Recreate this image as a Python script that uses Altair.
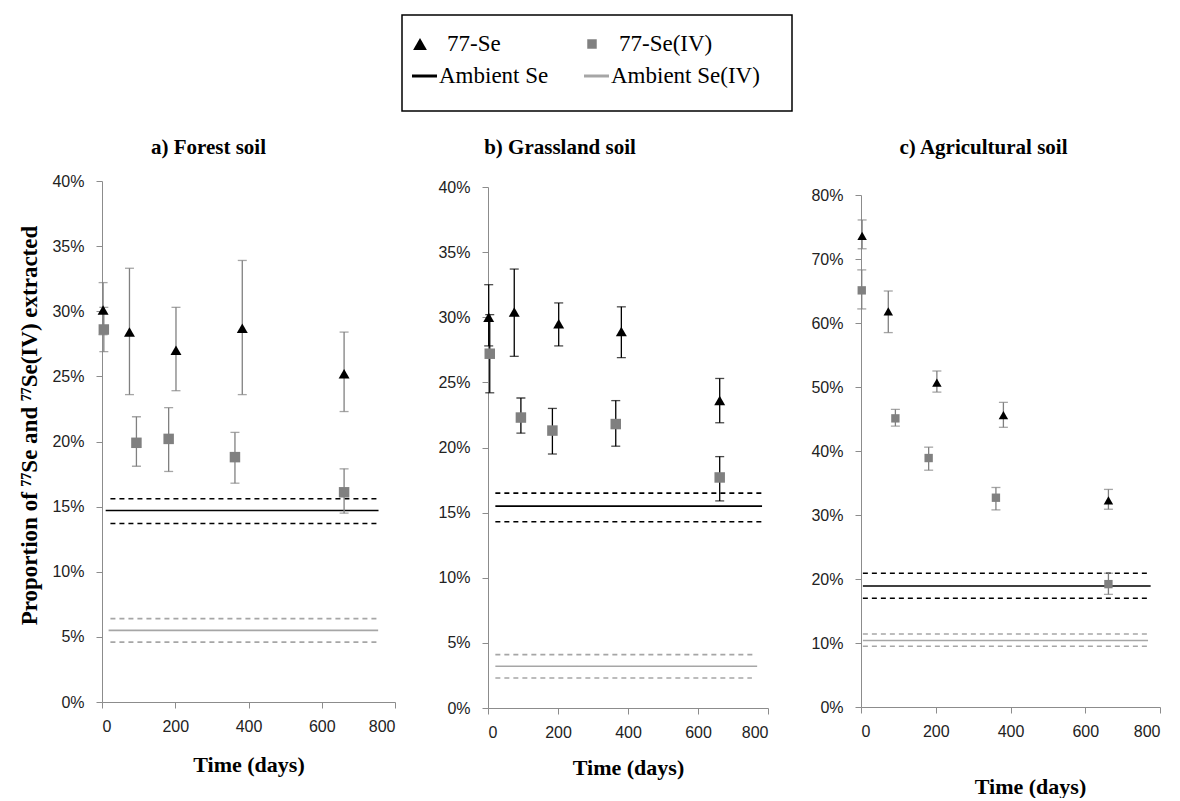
import altair as alt
import pandas as pd

# ---------------- data (values in %) ----------------
# a) Forest soil
a_se_day = [3, 75, 202, 383, 661]
a_se_val = [30.1, 28.4, 27.0, 28.7, 25.2]
a_se_lo = [28.2, 23.6, 23.9, 23.6, 22.3]
a_se_hi = [32.2, 33.3, 30.3, 33.9, 28.4]
a_iv_day = [5, 94, 182, 363, 661]
a_iv_val = [28.6, 19.9, 20.2, 18.8, 16.1]
a_iv_lo = [26.9, 18.1, 17.7, 16.8, 14.5]
a_iv_hi = [30.3, 21.9, 22.6, 20.7, 17.9]
a_amb_se = [14.7, 15.6, 13.7]        # mean, upper, lower
a_amb_iv = [5.5, 6.4, 4.6]
a_amb_se_start = [10, 23, 23]
a_amb_se_end = [755, 755, 755]
a_amb_iv_start = [18, 23, 23]
a_amb_iv_end = [754, 754, 754]

# b) Grassland soil
b_se_day = [2, 75, 202, 381, 662]
b_se_val = [30.0, 30.4, 29.5, 28.9, 23.6]
b_se_lo = [27.8, 27.0, 27.8, 26.9, 21.9]
b_se_hi = [32.5, 33.7, 31.1, 30.8, 25.3]
b_iv_day = [5, 94, 184, 365, 662]
b_iv_val = [27.2, 22.3, 21.3, 21.8, 17.7]
b_iv_lo = [24.2, 21.1, 19.5, 20.1, 15.9]
b_iv_hi = [30.2, 23.8, 23.0, 23.6, 19.3]
b_amb_se = [15.5, 16.5, 14.3]
b_amb_iv = [3.2, 4.1, 2.3]
b_amb_se_start = [21, 21, 21]
b_amb_se_end = [783, 792, 783]
b_amb_iv_start = [21, 21, 21]
b_amb_iv_end = [769, 765, 754]

# c) Agricultural soil
c_se_day = [3, 73, 203, 381, 662]
c_se_val = [73.6, 61.8, 50.7, 45.6, 32.3]
c_se_lo = [71.6, 58.5, 49.2, 43.7, 30.9]
c_se_hi = [76.1, 65.0, 52.5, 47.6, 34.0]
c_iv_day = [2, 92, 181, 361, 662]
c_iv_val = [65.1, 45.1, 38.9, 32.7, 19.2]
c_iv_lo = [62.2, 43.9, 37.0, 30.8, 17.6]
c_iv_hi = [68.3, 46.5, 40.6, 34.3, 20.9]
c_amb_se = [18.9, 20.9, 17.0]
c_amb_iv = [10.4, 11.4, 9.5]
c_amb_se_start = [5, 5, 5]
c_amb_se_end = [775, 775, 775]
c_amb_iv_start = [5, 5, 5]
c_amb_iv_end = [768, 775, 775]

panel_titles = ["a) Forest soil", "b) Grassland soil", "c) Agricultural soil"]
x_ticks = [0, 200, 400, 600, 800]
y_title = "Proportion of \u2077\u2077Se and \u2077\u2077Se(IV) extracted"

legend_labels = ["77-Se", "77-Se(IV)", "Ambient Se", "Ambient Se(IV)"]
legend_col = [0, 1, 0, 1]
legend_row = [0, 0, 1, 1]
legend_kind = ["triangle", "square", "line", "line"]
legend_color = ["black", "#808080", "black", "#a6a6a6"]

BLACK = "black"
GREY_PT = "#808080"
GREY_LN = "#a6a6a6"
SERIF = "Liberation Serif"


def spacer(w, h):
    return alt.Chart(pd.DataFrame({"v": [0]})).mark_point(opacity=0).encode(
        x=alt.value(0), y=alt.value(0)
    ).properties(width=w, height=h)


def make_panel(title, se, iv, amb_se, amb_iv, se_start, se_end, iv_start, iv_end,
               width, height, ymax, ystep, err_color, pt_size, tri_size,
               title_dx, title_offset, x_title_pad, show_ytitle, x_title_x=None):
    pts = pd.DataFrame({
        "day": se[0] + iv[0],
        "val": se[1] + iv[1],
        "lo": se[2] + iv[2],
        "hi": se[3] + iv[3],
        "series": ["se"] * len(se[0]) + ["iv"] * len(iv[0]),
    })
    amb = pd.DataFrame({
        "y": amb_se + amb_iv,
        "x1": se_start + iv_start,
        "x2": se_end + iv_end,
        "col": [BLACK] * 3 + [GREY_LN] * 3,
        "dash": ["solid", "dashed", "dashed"] * 2,
    })
    xkw = dict(values=x_ticks, title="Time (days)", titlePadding=x_title_pad, labelPadding=10)
    if x_title_x is not None:
        xkw["titleX"] = x_title_x
    xenc_axis = alt.Axis(**xkw)
    ykw = dict(values=list(range(0, ymax + 1, ystep)),
               labelExpr="datum.value + '%'",
               title=y_title if show_ytitle else "",
               labelPadding=12, titlePadding=10)
    if show_ytitle:
        ykw["titleY"] = 244
        ykw["titleFontSize"] = 23
    yenc_axis = alt.Axis(**ykw)
    xs = alt.Scale(domain=[0, 800], nice=False)
    ys = alt.Scale(domain=[0, ymax], nice=False)
    X = alt.X("day:Q", scale=xs, axis=xenc_axis)

    rules = alt.Chart(amb).mark_rule(strokeWidth=1.6).encode(
        x=alt.X("x1:Q", scale=xs, axis=xenc_axis),
        x2="x2:Q",
        y=alt.Y("y:Q", scale=ys, axis=yenc_axis),
        color=alt.Color("col:N", scale=None),
        strokeDash=alt.StrokeDash("dash:N", scale=alt.Scale(domain=["solid", "dashed"],
                                                            range=[[1, 0], [5, 4]]), legend=None),
    )
    bars = alt.Chart(pts).mark_rule(color=err_color, strokeWidth=1.3).encode(
        x=X, y=alt.Y("lo:Q", scale=ys, axis=yenc_axis), y2="hi:Q"
    )
    caps = alt.Chart(pts).transform_fold(["lo", "hi"], as_=["which", "cap"]).mark_tick(
        orient="horizontal", size=9, thickness=1.3, color=err_color
    ).encode(x=X, y=alt.Y("cap:Q", scale=ys, axis=yenc_axis))
    squares = alt.Chart(pts).transform_filter("datum.series == 'iv'").mark_square(
        color=GREY_PT, size=pt_size, opacity=1
    ).encode(x=X, y=alt.Y("val:Q", scale=ys, axis=yenc_axis))
    tris = alt.Chart(pts).transform_filter("datum.series == 'se'").mark_point(
        shape="triangle-up", filled=True, color=BLACK, size=tri_size, opacity=1
    ).encode(x=X, y=alt.Y("val:Q", scale=ys, axis=yenc_axis))

    return alt.layer(rules, bars, caps, squares, tris).properties(
        width=width, height=height,
        title=alt.TitleParams(title, font=SERIF, fontSize=21, fontWeight="bold",
                              dx=title_dx, offset=title_offset, color="black",
                              frame="group"),
    )


pa = make_panel(panel_titles[0], (a_se_day, a_se_val, a_se_lo, a_se_hi),
                (a_iv_day, a_iv_val, a_iv_lo, a_iv_hi), a_amb_se, a_amb_iv,
                a_amb_se_start, a_amb_se_end, a_amb_iv_start, a_amb_iv_end,
                293, 521, 40, 5, GREY_PT, 110, 120, -40, 15, 20, True)
pb = make_panel(panel_titles[1], (b_se_day, b_se_val, b_se_lo, b_se_hi),
                (b_iv_day, b_iv_val, b_iv_lo, b_iv_hi), b_amb_se, b_amb_iv,
                b_amb_se_start, b_amb_se_end, b_amb_iv_start, b_amb_iv_end,
                280, 521, 40, 5, BLACK, 110, 120, -68, 21, 17, False)
pc = make_panel(panel_titles[2], (c_se_day, c_se_val, c_se_lo, c_se_hi),
                (c_iv_day, c_iv_val, c_iv_lo, c_iv_hi), c_amb_se, c_amb_iv,
                c_amb_se_start, c_amb_se_end, c_amb_iv_start, c_amb_iv_end,
                299, 512, 80, 10, GREY_PT, 70, 90, -27, 29, 37, False, x_title_x=169)

# ---------------- legend box ----------------
leg = pd.DataFrame({"label": legend_labels, "col": legend_col, "row": legend_row,
                    "kind": legend_kind, "color": legend_color})
LW, LH = 390, 96
lx = alt.Scale(domain=[-18 / 172, (LW - 18) / 172], nice=False, zero=False)
ly = alt.Scale(domain=[-29 / 32, (LH - 29) / 32], nice=False, zero=False, reverse=True)
base = alt.Chart(leg)
leg_tri = base.transform_filter("datum.kind == 'triangle'").mark_point(
    shape="triangle-up", filled=True, color=BLACK, size=190, opacity=1
).encode(x=alt.X("col:Q", scale=lx, axis=None), y=alt.Y("row:Q", scale=ly, axis=None))
leg_sq = base.transform_filter("datum.kind == 'square'").mark_square(
    color=GREY_PT, size=90, opacity=1
).encode(x=alt.X("col:Q", scale=lx, axis=None), y=alt.Y("row:Q", scale=ly, axis=None))
leg_line = base.transform_filter("datum.kind == 'line'").transform_calculate(
    xa="datum.col - 8/172", xb="datum.col + 17/172"
).mark_rule(strokeWidth=3).encode(
    x=alt.X("xa:Q", scale=lx, axis=None), x2="xb:Q",
    y=alt.Y("row:Q", scale=ly, axis=None), color=alt.Color("color:N", scale=None)
)
leg_txt0 = base.transform_filter("datum.row == 0").mark_text(
    align="left", baseline="middle", font=SERIF, fontSize=23, dx=27, color="black"
).encode(x=alt.X("col:Q", scale=lx, axis=None), y=alt.Y("row:Q", scale=ly, axis=None), text="label:N")
leg_txt1 = base.transform_filter("datum.row == 1").mark_text(
    align="left", baseline="middle", font=SERIF, fontSize=23, dx=19, color="black"
).encode(x=alt.X("col:Q", scale=lx, axis=None), y=alt.Y("row:Q", scale=ly, axis=None), text="label:N")
legend_chart = alt.layer(leg_line, leg_tri, leg_sq, leg_txt0, leg_txt1).properties(
    width=LW, height=LH, view=alt.ViewBackground(stroke="black", strokeWidth=1.5)
)

top = alt.hconcat(spacer(300, LH), legend_chart, spacing=0, bounds="flush")
cols = [alt.vconcat(spacer(w, 1), p, spacing=0) for w, p in ((293, pa), (280, pb), (299, pc))]
row = alt.hconcat(*cols, spacing=41)

chart = alt.vconcat(top, row, spacing=16).properties(
    padding={"left": 10, "top": 3, "right": 5, "bottom": 0}
).configure_view(stroke="transparent").configure_axis(
    grid=False, domainColor="#8c8c8c", tickColor="#8c8c8c", tickSize=6,
    labelFont="Liberation Sans", labelFontSize=16, labelColor="#222222",
    titleFont=SERIF, titleFontSize=22, titleFontWeight="bold", titleColor="black",
)

chart.save("out.html", embed_options={"renderer": "svg", "actions": False})
